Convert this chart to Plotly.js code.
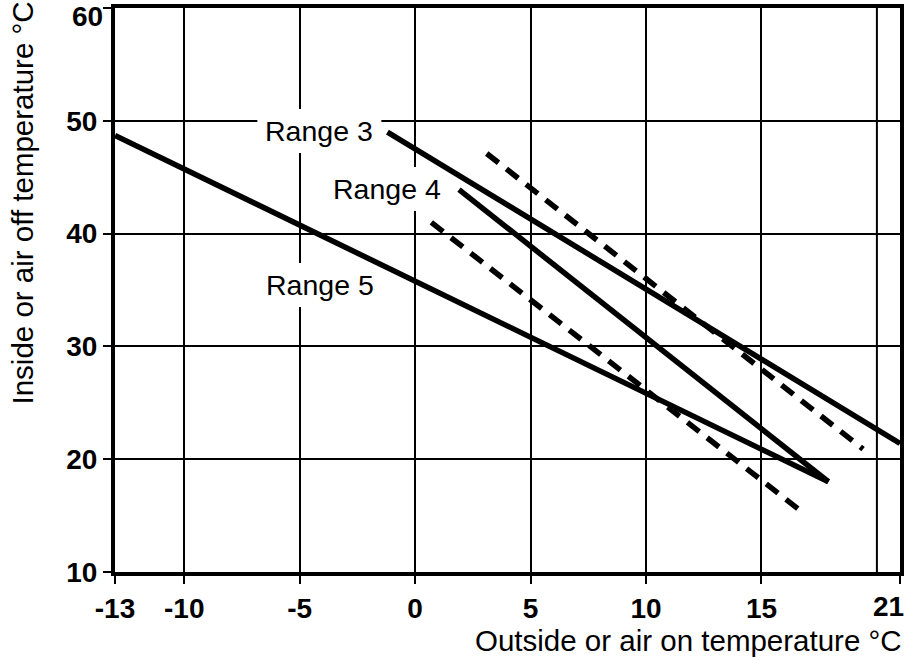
<!DOCTYPE html>
<html>
<head>
<meta charset="utf-8">
<script src="https://cdn.plot.ly/plotly-3.0.1.min.js"></script>
<style>html,body{margin:0;padding:0;background:#fff;}#chart{width:911px;height:661px;}</style>
</head>
<body>
<div id="chart"></div>
<script>
// Data
const range3X = [-1.2, 21.0];
const range3Y = [49.0, 21.4];
const range4X = [1.9, 17.9];
const range4Y = [43.9, 18.0];
const range5X = [-13.0, 17.9];
const range5Y = [48.7, 18.0];
const dashUpperX = [3.1, 19.4];
const dashUpperY = [47.1, 20.9];
const dashLowerX = [0.7, 16.9];
const dashLowerY = [41.0, 15.1];

const xTickVals = [-13, -10, -5, 0, 5, 10, 15, 21];
const xTickText = ['-13', '-10', '-5', '0', '5', '10', '15', '21'];
const yTickVals = [10, 20, 30, 40, 50, 60];
const yTickText = ['10', '20', '30', '40', '50', '60'];
const extraGridX = 20;

const labelNames = ['Range 3', 'Range 4', 'Range 5'];
const labelX = [-4.15, -1.2, -4.1];
const labelY = [49.1, 43.95, 35.45];

const xTitle = 'Outside or air on temperature °C';
const yTitle = 'Inside or air off temperature °C';

const solid = {color: '#000', width: 5.5};
const dashed = {color: '#000', width: 5.5, dash: '15px,10px'};

const traces = [
  {x: range3X, y: range3Y, mode: 'lines', line: solid, name: 'Range 3'},
  {x: range4X, y: range4Y, mode: 'lines', line: solid, name: 'Range 4'},
  {x: range5X, y: range5Y, mode: 'lines', line: solid, name: 'Range 5'},
  {x: dashUpperX, y: dashUpperY, mode: 'lines', line: dashed, name: 'upper'},
  {x: dashLowerX, y: dashLowerY, mode: 'lines', line: dashed, name: 'lower'}
];

const fam = 'Liberation Sans, Arial, sans-serif';
const tickFont = {family: fam, size: 28, color: '#000', weight: 'bold'};
const labelFont = {family: fam, size: 28.5, color: '#000'};
const titleFont = {family: fam, size: 29.5, color: '#000'};

// The end tick labels (first y at top, last x at right) are placed as annotations
// so they stay inside the page, as in the reference.
const lastX = xTickVals.length - 1;
const lastY = yTickVals.length - 1;
const xAxisText = xTickText.map((t, i) => i === lastX ? '' : t);
const yAxisText = yTickText.map((t, i) => i === lastY ? '' : t);

const annotations = labelNames.map((t, i) => ({
  x: labelX[i], y: labelY[i], xref: 'x', yref: 'y', text: t, showarrow: false,
  font: labelFont, xanchor: 'center', yanchor: 'middle'
}));
annotations.push({
  xref: 'x', yref: 'paper', x: xTickVals[lastX], y: 0, xanchor: 'right', yanchor: 'middle',
  xshift: 5, yshift: -34, borderpad: 0, text: xTickText[lastX], showarrow: false, font: tickFont
});
annotations.push({
  xref: 'paper', yref: 'paper', x: 0, y: 1, xanchor: 'right', yanchor: 'top',
  xshift: -10, yshift: 9, text: yTickText[lastY], showarrow: false, font: tickFont
});
annotations.push({
  xref: 'paper', yref: 'paper', x: 1, y: 0, xanchor: 'right', yanchor: 'middle',
  yshift: -68, xshift: 3, borderpad: 0, text: xTitle, showarrow: false, font: titleFont
});
annotations.push({
  xref: 'paper', yref: 'paper', x: 0, y: 1, xanchor: 'center', yanchor: 'top',
  xshift: -93, yshift: 8, textangle: -90, text: yTitle, showarrow: false, font: titleFont
});

// white boxes behind the labels that break the grid lines (not the data lines)
const labelBoxes = labelNames.map((t, i) => ({
  type: 'rect', xref: 'x', yref: 'y', xsizemode: 'pixel', ysizemode: 'pixel',
  xanchor: labelX[i], yanchor: labelY[i], x0: -62, x1: 62, y0: -22, y1: 22,
  fillcolor: '#fff', line: {width: 0}, layer: 'between'
}));

const layout = {
  width: 911, height: 661,
  margin: {l: 115, r: 11, t: 8, b: 89},
  paper_bgcolor: '#fff', plot_bgcolor: '#fff',
  showlegend: false,
  xaxis: {
    range: [-13, 21], tickmode: 'array', tickvals: xTickVals, ticktext: xAxisText,
    showgrid: true, gridcolor: '#000', gridwidth: 2, zeroline: false,
    showline: true, linecolor: '#000', linewidth: 4, mirror: true,
    ticks: 'outside', ticklen: 8, tickwidth: 2, tickcolor: '#000',
    tickfont: tickFont, fixedrange: true
  },
  yaxis: {
    range: [10, 60], tickmode: 'array', tickvals: yTickVals, ticktext: yAxisText,
    showgrid: true, gridcolor: '#000', gridwidth: 2, zeroline: false,
    showline: true, linecolor: '#000', linewidth: 4, mirror: true,
    ticks: 'outside', ticklen: 8, tickwidth: 2, tickcolor: '#000',
    tickfont: tickFont, fixedrange: true
  },
  shapes: [{
    type: 'line', xref: 'x', yref: 'paper', x0: extraGridX, x1: extraGridX, y0: 0, y1: 1,
    line: {color: '#000', width: 2}, layer: 'between'
  }].concat(labelBoxes),
  annotations: annotations
};

Plotly.newPlot('chart', traces, layout, {displayModeBar: false, staticPlot: true});
</script>
</body>
</html>
